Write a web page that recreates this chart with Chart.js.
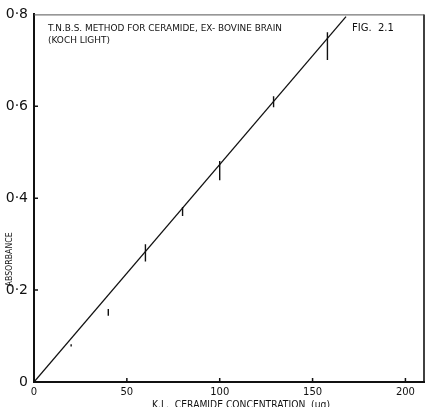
<!DOCTYPE html>
<html>
<head>
<meta charset="utf-8">
<script src="https://cdn.jsdelivr.net/npm/chart.js@4/dist/chart.umd.min.js"></script>
<style>
  html, body { margin: 0; padding: 0; background: #fff; }
  canvas { display: block; }
</style>
</head>
<body>
<canvas id="absorbanceChart" width="429" height="407"></canvas>
<script>
"use strict";
// measured points (µg ceramide) with the spread of absorbance readings
const concentration = [20, 40, 60, 80, 100, 129, 158];
const absorbanceLow = [0.077, 0.144, 0.262, 0.361, 0.439, 0.598, 0.701];
const absorbanceHigh = [0.082, 0.159, 0.300, 0.381, 0.481, 0.622, 0.761];
// drawn calibration line
const fitConcentration = [0, 168];
const fitAbsorbance = [0, 0.795];
// axes
const xTickValues = [0, 50, 100, 150, 200];
const yTickValues = [0, 0.2, 0.4, 0.6, 0.8];
const yTickLabels = ['0', '0·2', '0·4', '0·6', '0·8'];
const titleLines = ['T.N.B.S. METHOD FOR CERAMIDE, EX- BOVINE BRAIN', '(KOCH LIGHT)'];
const figLabel = 'FIG.  2.1';
const xTitle = 'K.L.  CERAMIDE CONCENTRATION  (µg)';
const yTitle = 'ABSORBANCE';

const FONT = '"DejaVu Sans", sans-serif';
const INK = '#111';

document.addEventListener('DOMContentLoaded', () => {
    const canvas = document.getElementById('absorbanceChart');
    const ctx = canvas.getContext('2d');
    if (!ctx) {
        console.error('Could not get canvas context');
        return;
    }

    const fitPoints = fitConcentration.map((x, i) => ({ x, y: fitAbsorbance[i] }));
    // each error bar is a short vertical segment, separated by gaps
    const errorPoints = [];
    concentration.forEach((x, i) => {
        errorPoints.push({ x, y: absorbanceLow[i] });
        errorPoints.push({ x, y: absorbanceHigh[i] });
        errorPoints.push({ x, y: null });
    });

    const frameAndNotes = {
        id: 'frameAndNotes',
        afterDraw(chart) {
            const c = chart.ctx;
            const a = chart.chartArea;
            const xs = chart.scales.x;
            const ys = chart.scales.y;
            c.save();
            c.strokeStyle = INK;
            c.lineCap = 'butt';

            // inward tick marks
            c.lineWidth = 1.5;
            c.beginPath();
            xTickValues.slice(1).forEach(v => {
                const px = xs.getPixelForValue(v);
                c.moveTo(px, a.bottom);
                c.lineTo(px, a.bottom - 4);
            });
            yTickValues.slice(1, -1).forEach(v => {
                const py = ys.getPixelForValue(v);
                c.moveTo(a.left, py);
                c.lineTo(a.left + 4, py);
            });
            c.stroke();

            // right and top frame
            c.lineWidth = 1.6;
            c.beginPath();
            c.moveTo(a.right, a.top);
            c.lineTo(a.right, a.bottom + 1);
            c.stroke();
            c.strokeStyle = '#555';
            c.lineWidth = 1;
            c.beginPath();
            c.moveTo(a.left, a.top + 0.5);
            c.lineTo(a.right, a.top + 0.5);
            c.stroke();

            // notes inside the plot
            c.fillStyle = INK;
            c.textBaseline = 'alphabetic';
            c.textAlign = 'left';
            c.font = '9px ' + FONT;
            c.fillText(titleLines[0], a.left + 14, a.top + 17, 234);
            c.fillText(titleLines[1], a.left + 14, a.top + 29, 62);
            c.font = '10px ' + FONT;
            c.fillText(figLabel, a.left + 318, a.top + 17, 44);

            // axis titles
            c.textAlign = 'center';
            c.textBaseline = 'middle';
            c.font = '10px ' + FONT;
            c.fillText(xTitle, a.left + 207, a.bottom + 23, 178);
            c.save();
            c.translate(10, a.top + 245);
            c.rotate(-Math.PI / 2);
            c.font = '8px ' + FONT;
            c.fillText(yTitle, 0, 0, 54);
            c.restore();

            c.restore();
        }
    };

    new Chart(ctx, {
        type: 'scatter',
        data: {
            datasets: [
                {
                    type: 'line',
                    label: 'calibration',
                    data: fitPoints,
                    borderColor: INK,
                    borderWidth: 1.3,
                    pointRadius: 0,
                    fill: false,
                    tension: 0
                },
                {
                    type: 'line',
                    label: 'readings',
                    data: errorPoints,
                    borderColor: INK,
                    borderWidth: 1.4,
                    pointRadius: 0,
                    spanGaps: false,
                    fill: false
                }
            ]
        },
        options: {
            responsive: false,
            animation: false,
            devicePixelRatio: 1,
            layout: { padding: { top: 11, right: 5, left: 0, bottom: 0 } },
            plugins: {
                legend: { display: false },
                tooltip: { enabled: false },
                title: { display: false }
            },
            scales: {
                x: {
                    type: 'linear',
                    min: 0,
                    max: 210,
                    offset: false,
                    afterBuildTicks: scale => {
                        scale.ticks = xTickValues.map(v => ({ value: v }));
                    },
                    afterFit: scale => { scale.height = 25; },
                    grid: { display: false, drawTicks: false },
                    border: { display: true, color: INK, width: 2 },
                    ticks: {
                        color: INK,
                        padding: 4,
                        maxRotation: 0,
                        font: { family: FONT, size: 10 }
                    }
                },
                y: {
                    type: 'linear',
                    min: 0,
                    max: 0.8,
                    afterBuildTicks: scale => {
                        scale.ticks = yTickValues.map(v => ({ value: v }));
                    },
                    afterFit: scale => { scale.width = 34; },
                    grid: { display: false, drawTicks: false },
                    border: { display: true, color: INK, width: 2 },
                    ticks: {
                        color: INK,
                        padding: 6,
                        font: { family: FONT, size: 14 },
                        callback: (value, index) => yTickLabels[index]
                    }
                }
            }
        },
        plugins: [frameAndNotes]
    });
});
</script>
</body>
</html>
